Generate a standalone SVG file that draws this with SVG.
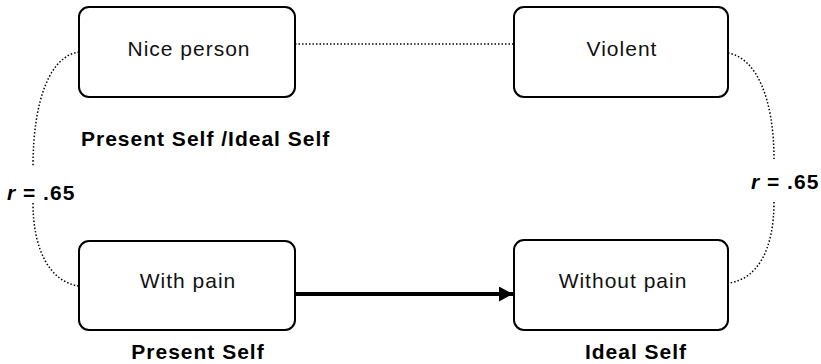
<svg xmlns="http://www.w3.org/2000/svg" width="821" height="364" viewBox="0 0 821 364">
<defs>
<style>
.box{fill:#fff;stroke:#000;stroke-width:2}
.lbl{font-family:"Liberation Sans",Arial,sans-serif;font-size:21px;letter-spacing:1px;fill:#111;text-anchor:middle}
.cap{font-family:"Liberation Sans",Arial,sans-serif;font-size:21px;letter-spacing:1px;font-weight:bold;fill:#000}
.dot{fill:none;stroke:#000;stroke-width:1.5;stroke-dasharray:1.5 2}
</style>
<marker id="ah" viewBox="0 0 14 15" refX="14" refY="7.5" markerWidth="14" markerHeight="15" markerUnits="userSpaceOnUse" orient="auto">
<path d="M0,0 L14,7.5 L0,15 Z" fill="#000"/>
</marker>
</defs>
<rect width="821" height="364" fill="#fff"/>
<g id="connectors">
<path class="dot" d="M295,44 L514,44"/>
<path class="dot" d="M79,52 C50,56 33,100 33,167"/>
<path class="dot" d="M33,203 C33,250 50,282 79,286"/>
<path class="dot" d="M728,53 C757,58 774,100 774,159"/>
<path class="dot" d="M774,202 C774,250 757,280 728,283"/>
<path d="M295,294 L513,294" stroke="#000" stroke-width="4" fill="none" marker-end="url(#ah)"/>
</g>
<g id="nice-person">
<rect class="box" x="79" y="7" width="216" height="90" rx="10"/>
<text class="lbl" x="189" y="56">Nice person</text>
</g>
<g id="violent">
<rect class="box" x="514" y="7" width="214" height="90" rx="10"/>
<text class="lbl" x="622" y="56">Violent</text>
</g>
<g id="with-pain">
<rect class="box" x="79" y="241" width="216" height="89" rx="10"/>
<text class="lbl" x="188" y="288">With pain</text>
</g>
<g id="without-pain">
<rect class="box" x="514" y="240" width="214" height="90" rx="10"/>
<text class="lbl" x="623" y="288">Without pain</text>
</g>
<g id="labels">
<text class="cap" x="81" y="146">Present Self /Ideal Self</text>
<text class="cap" x="7" y="200"><tspan font-style="italic">r</tspan> = .65</text>
<text class="cap" x="751" y="189"><tspan font-style="italic">r</tspan> = .65</text>
<text class="cap" x="198" y="359" text-anchor="middle">Present Self</text>
<text class="cap" x="636" y="359" text-anchor="middle">Ideal Self</text>
</g>
</svg>
